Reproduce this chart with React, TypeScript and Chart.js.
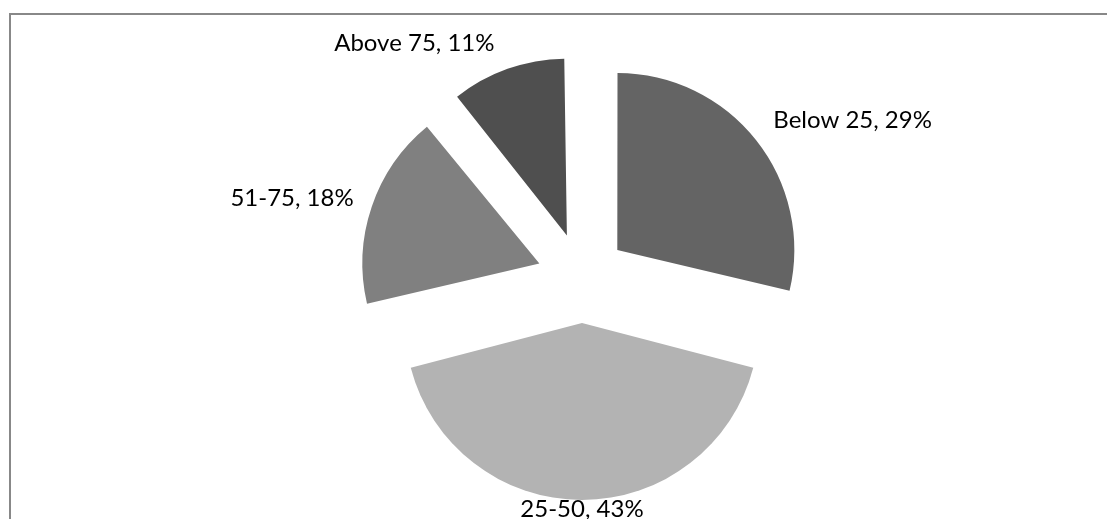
import React, { useEffect, useRef } from "react";
import { Chart, registerables } from "chart.js";

Chart.register(...registerables);

// ---- data ----
const categories: string[] = ["Below 25", "25-50", "51-75", "Above 75"];
const percentValues: number[] = [29, 43, 18, 11];
const sliceColors: string[] = ["#646464", "#b3b3b3", "#808080", "#4f4f4f"];
// small per-label layout nudges (px) applied after geometric placement
const labelNudge: [number, number][] = [
  [3, -9],
  [0, -9],
  [-1, -3],
  [-7, -9],
];

const W = 1107;
const H = 519;
const RADIUS = 177;
const EXPLODE = 45; // translation distance of each slice
const LABEL_GAP = 18;
const FONT = "24px Lato";

// Keep all slices the same drawn radius while exploding them
const uniformRadiusPlugin = {
  id: "uniformRadius",
  afterDatasetsUpdate(chart: any) {
    const meta = chart.getDatasetMeta(0);
    meta.data.forEach((arc: any) => {
      const off = ((arc.options && arc.options.offset) || 0) / 4;
      const circ = arc.endAngle - arc.startAngle;
      const fix = 1 - Math.sin(Math.min(Math.PI, circ));
      arc.outerRadius = RADIUS - off * fix;
    });
  },
};

const labelPlugin = {
  id: "outsideLabels",
  afterDatasetsDraw(chart: any) {
    const ctx = chart.ctx;
    const meta = chart.getDatasetMeta(0);
    ctx.save();
    ctx.font = FONT;
    ctx.fillStyle = "#000000";
    ctx.textBaseline = "middle";
    meta.data.forEach((arc: any, i: number) => {
      const mid = (arc.startAngle + arc.endAngle) / 2;
      const dx = Math.cos(mid);
      const dy = Math.sin(mid);
      const apexX = arc.x + dx * EXPLODE;
      const apexY = arc.y + dy * EXPLODE;
      const d = RADIUS + LABEL_GAP;
      const x = apexX + dx * d + labelNudge[i][0];
      const y = apexY + dy * d + labelNudge[i][1];
      if (dx > 0.2) ctx.textAlign = "left";
      else if (dx < -0.2) ctx.textAlign = "right";
      else ctx.textAlign = "center";
      const text = `${categories[i]}, ${percentValues[i]}%`;
      ctx.fillText(text, x, y);
    });
    ctx.restore();
  },
};

export default function App() {
  const canvasRef = useRef<HTMLCanvasElement | null>(null);

  useEffect(() => {
    if (!canvasRef.current) return;
    const chart = new Chart(canvasRef.current, {
      type: "pie",
      data: {
        labels: categories,
        datasets: [
          {
            data: percentValues,
            backgroundColor: sliceColors,
            borderWidth: 0,
            offset: EXPLODE * 4,
            radius: RADIUS,
          } as any,
        ],
      },
      options: {
        responsive: false,
        animation: false,
        devicePixelRatio: 1,
        layout: {
          padding: { left: 382, right: 325, top: 78, bottom: 41 },
        },
        plugins: {
          legend: { display: false },
          tooltip: { enabled: false },
          title: { display: false },
        },
      } as any,
      plugins: [uniformRadiusPlugin, labelPlugin],
    });
    return () => chart.destroy();
  }, []);

  return (
    <div
      style={{
        position: "fixed",
        left: 0,
        top: 0,
        width: W,
        height: H,
        overflow: "hidden",
        background: "#ffffff",
      }}
    >
      <div
        style={{
          position: "absolute",
          left: 9,
          top: 13,
          right: -10,
          bottom: -10,
          borderLeft: "2px solid #888888",
          borderTop: "2px solid #888888",
        }}
      />
      <canvas
        ref={canvasRef}
        width={W}
        height={H}
        style={{ position: "absolute", left: 0, top: 0, width: W, height: H }}
      />
    </div>
  );
}
